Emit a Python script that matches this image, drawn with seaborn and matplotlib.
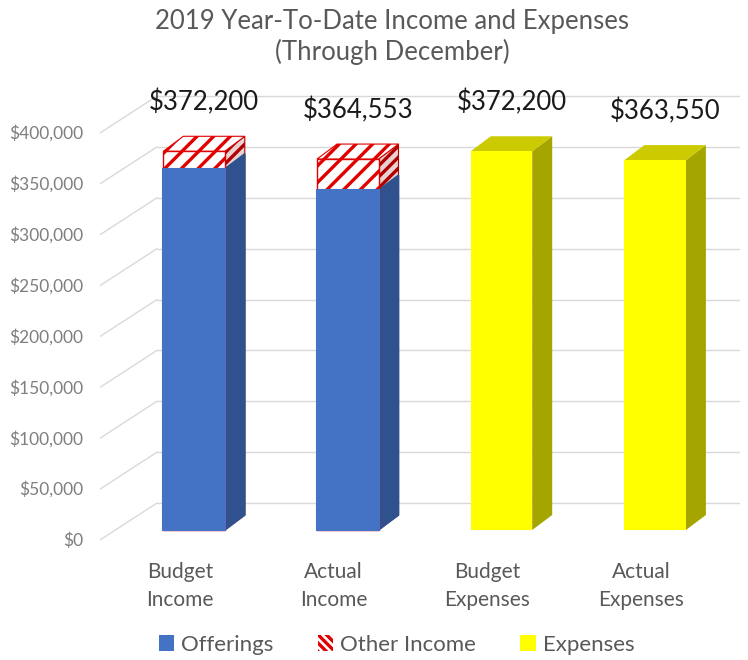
import matplotlib
matplotlib.use("Agg")
import matplotlib.pyplot as plt
import matplotlib.transforms as mtransforms
from matplotlib.patches import Polygon, Patch
import seaborn as sns
import pandas as pd

categories = ["Budget\nIncome", "Actual\nIncome", "Budget\nExpenses", "Actual\nExpenses"]
offerings = [355000, 334000, 0, 0]
other_income = [17200, 30553, 0, 0]
expenses = [0, 0, 372200, 363550]
yticks = list(range(0, 400001, 50000))
title = "2019 Year-To-Date Income and Expenses\n(Through December)"

# long table, other income drawn as the full stack top, offerings over it
rows = []
for cat, off, oth, exp in zip(categories, offerings, other_income, expenses):
    if off + oth > 0:
        rows.append((cat, "Other Income", off + oth))
        rows.append((cat, "Offerings", off))
    if exp > 0:
        rows.append((cat, "Expenses", exp))
df = pd.DataFrame(rows, columns=["category", "series", "top"])
totals = [o + i + e for o, i, e in zip(offerings, other_income, expenses)]

sns.set_theme(style="white")
plt.rcParams["font.family"] = ["Lato", "DejaVu Sans"]
plt.rcParams["hatch.linewidth"] = 2.4
plt.rcParams["hatch.color"] = "#e00000"

W, H = 748, 660
fig = plt.figure(figsize=(W / 100, H / 100), dpi=100)
ax_l, ax_r, ax_t, ax_b = 100, 740, 90, 545
ax = fig.add_axes([ax_l / W, 1 - ax_b / H, (ax_r - ax_l) / W, (ax_b - ax_t) / H])

hue_order = ["Other Income", "Offerings", "Expenses"]
palette = {"Other Income": "white", "Offerings": "#4472C4", "Expenses": "#FFFF00"}
sns.barplot(data=df, x="category", y="top", hue="series", order=categories,
            hue_order=hue_order, palette=palette, dodge=False, width=0.4,
            saturation=1, errorbar=None, legend=False, ax=ax, zorder=3)

# axis scale: zero of the bar plane at 530 px from the top
ppy = 1.0175e-3
x0, x1 = -0.612, 3.552
ax.set_xlim(x0, x1)
ax.set_ylim(-(ax_b - 530) / ppy, (530 - ax_t) / ppy)
ppx = (ax_r - ax_l) / (x1 - x0)

def dx(p):
    return p / ppx

def dy(p):
    return p / ppy

depth_x, depth_y = 20, 15

# perspective gridlines: back wall + diagonal to the front
xb = x0 + dx(57)
for v in yticks:
    ax.plot([xb, x1], [v + dy(27), v + dy(27)], color="#d9d9d9", lw=1, zorder=1)
    ax.plot([x0, xb], [v - dy(10), v + dy(27)], color="#d9d9d9", lw=1, zorder=1)

for series, cont in zip(hue_order, ax.containers):
    for p in cont.patches:
        h = p.get_height()
        if h <= 0:
            continue
        x, w, b = p.get_x(), p.get_width(), p.get_y()
        xr = x + w
        side = [(xr, b), (xr + dx(depth_x), b + dy(depth_y)),
                (xr + dx(depth_x), b + h + dy(depth_y)), (xr, b + h)]
        top = [(x, b + h), (xr, b + h), (xr + dx(depth_x), b + h + dy(depth_y)),
               (x + dx(depth_x), b + h + dy(depth_y))]
        if series == "Other Income":
            p.set_hatch("//")
            p.set_edgecolor("#e00000")
            p.set_linewidth(1)
            ax.add_patch(Polygon(side, closed=True, fc="#e9d2d2", ec="#b00000",
                                 hatch="///", lw=0.8, zorder=2.5))
            ax.add_patch(Polygon(top, closed=True, fc="white", ec="#e00000",
                                 hatch="//", lw=0.8, zorder=2.5))
        elif series == "Offerings":
            # own-colour edge hides the red outline of the stack below
            p.set_edgecolor("#4472C4")
            p.set_linewidth(1.5)
            ax.add_patch(Polygon(side, closed=True, fc="#2F528F", ec="#2F528F",
                                 lw=1.2, zorder=2.6))
        else:
            p.set_linewidth(0)
            ax.add_patch(Polygon(side, closed=True, fc="#A5A500", lw=0, zorder=2.6))
            ax.add_patch(Polygon(top, closed=True, fc="#CBCB00", lw=0, zorder=2.6))

for i, t in enumerate(totals):
    ax.annotate(f"${t:,.0f}", xy=(i, t), xytext=(10, 49), textcoords="offset pixels",
                ha="center", va="center", fontsize=18.5, color="#1a1a1a", zorder=5)

ax.set_yticks(yticks)
ax.set_yticklabels([f"${v:,}" for v in yticks])
ax.tick_params(axis="y", length=0, pad=12, labelsize=12.5, labelcolor="#7f7f7f")
ax.tick_params(axis="x", length=0, pad=12, labelsize=15, labelcolor="#595959")
ax.set_xlabel("")
ax.set_ylabel("")
sns.despine(ax=ax, left=True, bottom=True)

off_y = mtransforms.ScaledTranslation(0, -9 / 100, fig.dpi_scale_trans)
for lab in ax.get_yticklabels():
    lab.set_transform(lab.get_transform() + off_y)
off_x = mtransforms.ScaledTranslation(-14 / 100, 0, fig.dpi_scale_trans)
for lab in ax.get_xticklabels():
    lab.set_transform(lab.get_transform() + off_x)
    lab.set_linespacing(1.5)

fig.text(392 / W, 1 - 9 / H, title, ha="center", va="top", fontsize=18.5,
         color="#595959", linespacing=1.25)

handles = [Patch(fc="#4472C4", lw=0),
           Patch(fc="white", ec="#e00000", hatch="\\\\\\\\", lw=0),
           Patch(fc="#FFFF00", lw=0)]
fig.legend(handles, ["Offerings", "Other Income", "Expenses"], loc="lower center",
           bbox_to_anchor=(0.53, -0.022), ncol=3, frameon=False, fontsize=16,
           handlelength=0.7, handleheight=0.7, handletextpad=0.3, columnspacing=2.0,
           labelcolor="#595959")

fig.savefig("out.png", dpi=100)
